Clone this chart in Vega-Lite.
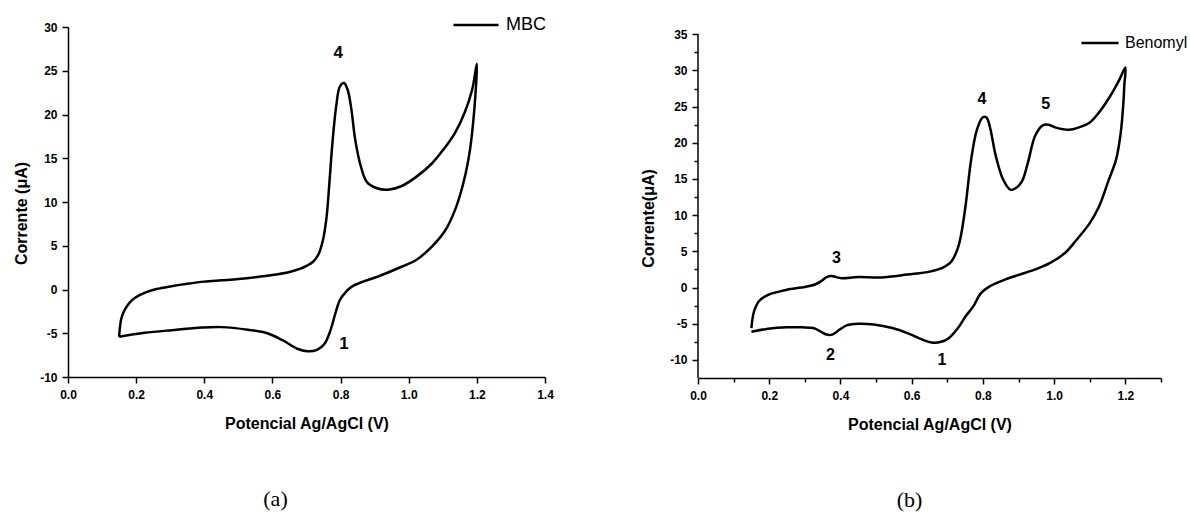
{
  "$schema": "https://vega.github.io/schema/vega-lite/v6.json",
  "autosize": {"type": "none"},
  "padding": {"left": 68, "top": 27, "right": 1122, "bottom": 485},
  "background": "white",
  "bounds": "flush",
  "spacing": 153,
  "config": {
    "view": {"stroke": null},
    "font": "Liberation Sans",
    "axis": {
      "grid": false,
      "domainColor": "black", "domainWidth": 1.5,
      "tickColor": "black", "tickWidth": 1.5,
      "labelColor": "black", "labelFont": "Liberation Sans", "labelFontSize": 12, "labelFontWeight": "bold",
      "labelFlush": false, "labelOverlap": false, "labelPadding": 5,
      "titleColor": "black", "titleFont": "Liberation Sans", "titleFontSize": 16, "titleFontWeight": "bold"
    },
    "axisX": {"labelPadding": 6},
    "title": {"font": "Liberation Serif", "fontSize": 22, "fontWeight": "normal", "color": "black"}
  },
  "resolve": {"scale": {"color": "independent"}, "legend": {"color": "independent"}},
  "datasets": {
    "mbc": [
      {"i": 0, "x": 0.150, "y": -5.4}, {"i": 1, "x": 0.152, "y": -4.5}, {"i": 2, "x": 0.156, "y": -3.4},
      {"i": 3, "x": 0.163, "y": -2.6}, {"i": 4, "x": 0.175, "y": -1.8}, {"i": 5, "x": 0.19, "y": -1.15},
      {"i": 6, "x": 0.21, "y": -0.65}, {"i": 7, "x": 0.23, "y": -0.3}, {"i": 8, "x": 0.26, "y": 0.05},
      {"i": 9, "x": 0.30, "y": 0.35}, {"i": 10, "x": 0.35, "y": 0.65}, {"i": 11, "x": 0.40, "y": 0.9},
      {"i": 12, "x": 0.45, "y": 1.05}, {"i": 13, "x": 0.50, "y": 1.2}, {"i": 14, "x": 0.55, "y": 1.4},
      {"i": 15, "x": 0.60, "y": 1.65}, {"i": 16, "x": 0.65, "y": 2.0}, {"i": 17, "x": 0.68, "y": 2.35},
      {"i": 18, "x": 0.70, "y": 2.7}, {"i": 19, "x": 0.72, "y": 3.2}, {"i": 20, "x": 0.735, "y": 4.0},
      {"i": 21, "x": 0.748, "y": 5.6}, {"i": 22, "x": 0.759, "y": 8.3}, {"i": 23, "x": 0.767, "y": 12.1},
      {"i": 24, "x": 0.776, "y": 16.7}, {"i": 25, "x": 0.787, "y": 20.9}, {"i": 26, "x": 0.798, "y": 23.2},
      {"i": 27, "x": 0.81, "y": 23.6}, {"i": 28, "x": 0.821, "y": 22.8}, {"i": 29, "x": 0.832, "y": 20.5},
      {"i": 30, "x": 0.843, "y": 17.1}, {"i": 31, "x": 0.86, "y": 14.0}, {"i": 32, "x": 0.877, "y": 12.3},
      {"i": 33, "x": 0.905, "y": 11.6}, {"i": 34, "x": 0.939, "y": 11.4}, {"i": 35, "x": 0.978, "y": 11.8},
      {"i": 36, "x": 1.023, "y": 12.9}, {"i": 37, "x": 1.068, "y": 14.4}, {"i": 38, "x": 1.102, "y": 16.0},
      {"i": 39, "x": 1.136, "y": 17.9}, {"i": 40, "x": 1.164, "y": 20.2}, {"i": 41, "x": 1.186, "y": 22.8},
      {"i": 42, "x": 1.2, "y": 25.8},
      {"i": 43, "x": 1.198, "y": 23.6}, {"i": 44, "x": 1.186, "y": 17.9}, {"i": 45, "x": 1.175, "y": 14.8},
      {"i": 46, "x": 1.158, "y": 11.8}, {"i": 47, "x": 1.136, "y": 9.1}, {"i": 48, "x": 1.108, "y": 6.8},
      {"i": 49, "x": 1.068, "y": 4.9}, {"i": 50, "x": 1.023, "y": 3.4}, {"i": 51, "x": 0.967, "y": 2.4},
      {"i": 52, "x": 0.911, "y": 1.5}, {"i": 53, "x": 0.866, "y": 0.9}, {"i": 54, "x": 0.832, "y": 0.3},
      {"i": 55, "x": 0.815, "y": -0.3}, {"i": 56, "x": 0.798, "y": -1.2}, {"i": 57, "x": 0.785, "y": -2.7},
      {"i": 58, "x": 0.77, "y": -4.7}, {"i": 59, "x": 0.753, "y": -6.2}, {"i": 60, "x": 0.731, "y": -6.9},
      {"i": 61, "x": 0.703, "y": -7.06}, {"i": 62, "x": 0.675, "y": -6.8}, {"i": 63, "x": 0.63, "y": -5.8},
      {"i": 64, "x": 0.585, "y": -5.0}, {"i": 65, "x": 0.528, "y": -4.6}, {"i": 66, "x": 0.45, "y": -4.3},
      {"i": 67, "x": 0.394, "y": -4.35}, {"i": 68, "x": 0.304, "y": -4.65}, {"i": 69, "x": 0.225, "y": -4.95},
      {"i": 70, "x": 0.18, "y": -5.2}, {"i": 71, "x": 0.15, "y": -5.4}
    ],
    "ben": [
      {"i": 0, "x": 0.150, "y": -5.6}, {"i": 1, "x": 0.153, "y": -4.3}, {"i": 2, "x": 0.158, "y": -3.2},
      {"i": 3, "x": 0.171, "y": -1.9}, {"i": 4, "x": 0.197, "y": -1.0}, {"i": 5, "x": 0.225, "y": -0.6},
      {"i": 6, "x": 0.25, "y": -0.3}, {"i": 7, "x": 0.29, "y": 0.0}, {"i": 8, "x": 0.313, "y": 0.2},
      {"i": 9, "x": 0.33, "y": 0.45}, {"i": 10, "x": 0.345, "y": 0.85}, {"i": 11, "x": 0.361, "y": 1.45},
      {"i": 12, "x": 0.375, "y": 1.6}, {"i": 13, "x": 0.387, "y": 1.45}, {"i": 14, "x": 0.403, "y": 1.3},
      {"i": 15, "x": 0.45, "y": 1.45}, {"i": 16, "x": 0.514, "y": 1.4}, {"i": 17, "x": 0.588, "y": 1.8},
      {"i": 18, "x": 0.651, "y": 2.2}, {"i": 19, "x": 0.693, "y": 2.9}, {"i": 20, "x": 0.71, "y": 3.5},
      {"i": 21, "x": 0.72, "y": 4.3}, {"i": 22, "x": 0.73, "y": 5.5}, {"i": 23, "x": 0.738, "y": 7.1},
      {"i": 24, "x": 0.751, "y": 11.2}, {"i": 25, "x": 0.767, "y": 17.7}, {"i": 26, "x": 0.783, "y": 21.8},
      {"i": 27, "x": 0.799, "y": 23.5}, {"i": 28, "x": 0.81, "y": 23.5}, {"i": 29, "x": 0.82, "y": 22.1},
      {"i": 30, "x": 0.836, "y": 18.2}, {"i": 31, "x": 0.857, "y": 14.9}, {"i": 32, "x": 0.878, "y": 13.5},
      {"i": 33, "x": 0.894, "y": 13.8}, {"i": 34, "x": 0.91, "y": 14.7}, {"i": 35, "x": 0.926, "y": 17.2},
      {"i": 36, "x": 0.947, "y": 21.0}, {"i": 37, "x": 0.968, "y": 22.4}, {"i": 38, "x": 0.984, "y": 22.5},
      {"i": 39, "x": 1.005, "y": 22.1}, {"i": 40, "x": 1.042, "y": 21.8}, {"i": 41, "x": 1.068, "y": 22.1},
      {"i": 42, "x": 1.1, "y": 22.8}, {"i": 43, "x": 1.126, "y": 24.2}, {"i": 44, "x": 1.158, "y": 26.5},
      {"i": 45, "x": 1.184, "y": 28.8}, {"i": 46, "x": 1.2, "y": 30.4},
      {"i": 47, "x": 1.197, "y": 28.0}, {"i": 48, "x": 1.195, "y": 26.0}, {"i": 49, "x": 1.187, "y": 21.4},
      {"i": 50, "x": 1.174, "y": 17.7}, {"i": 51, "x": 1.152, "y": 14.7}, {"i": 52, "x": 1.126, "y": 11.2},
      {"i": 53, "x": 1.1, "y": 8.9}, {"i": 54, "x": 1.063, "y": 6.6}, {"i": 55, "x": 1.031, "y": 4.8},
      {"i": 56, "x": 0.989, "y": 3.4}, {"i": 57, "x": 0.947, "y": 2.5}, {"i": 58, "x": 0.904, "y": 1.8},
      {"i": 59, "x": 0.862, "y": 1.1}, {"i": 60, "x": 0.82, "y": 0.2}, {"i": 61, "x": 0.794, "y": -0.8},
      {"i": 62, "x": 0.773, "y": -2.6}, {"i": 63, "x": 0.751, "y": -4.0}, {"i": 64, "x": 0.73, "y": -5.6},
      {"i": 65, "x": 0.704, "y": -7.0}, {"i": 66, "x": 0.683, "y": -7.5}, {"i": 67, "x": 0.656, "y": -7.6},
      {"i": 68, "x": 0.63, "y": -7.2}, {"i": 69, "x": 0.588, "y": -6.3}, {"i": 70, "x": 0.546, "y": -5.6},
      {"i": 71, "x": 0.493, "y": -5.1}, {"i": 72, "x": 0.45, "y": -5.0}, {"i": 73, "x": 0.419, "y": -5.2},
      {"i": 74, "x": 0.398, "y": -5.8}, {"i": 75, "x": 0.377, "y": -6.5}, {"i": 76, "x": 0.361, "y": -6.5},
      {"i": 77, "x": 0.345, "y": -6.1}, {"i": 78, "x": 0.324, "y": -5.6}, {"i": 79, "x": 0.292, "y": -5.5},
      {"i": 80, "x": 0.25, "y": -5.5}, {"i": 81, "x": 0.197, "y": -5.7}, {"i": 82, "x": 0.15, "y": -6.1}
    ],
    "lblA": [
      {"t": "4", "x": 0.793, "y": 27.0},
      {"t": "1", "x": 0.81, "y": -6.2}
    ],
    "lblB": [
      {"t": "3", "x": 0.389, "y": 4.1},
      {"t": "4", "x": 0.797, "y": 26.0},
      {"t": "5", "x": 0.976, "y": 25.3},
      {"t": "2", "x": 0.372, "y": -9.3},
      {"t": "1", "x": 0.685, "y": -10.0}
    ]
  },
  "hconcat": [
    {
      "width": 477,
      "height": 350,
      "title": {"text": "(a)", "orient": "bottom", "frame": "group", "anchor": "middle", "dx": -31, "offset": 58},
      "layer": [
        {
          "data": {"name": "mbc"},
          "mark": {"type": "line", "interpolate": "catmull-rom", "strokeWidth": 2.5},
          "encoding": {
            "x": {
              "field": "x", "type": "quantitative",
              "scale": {"domain": [0, 1.4], "nice": false, "zero": false},
              "axis": {
                "title": "Potencial Ag/AgCl (V)",
                "values": [0, 0.1, 0.2, 0.3, 0.4, 0.5, 0.6, 0.7, 0.8, 0.9, 1.0, 1.1, 1.2, 1.3, 1.4],
                "labelExpr": "round(datum.value*10) % 2 == 0 ? format(datum.value, '.1f') : ''",
                "tickSize": {"condition": {"test": "round(datum.value*10) % 2 == 0", "value": 6}, "value": 4},
                "titleY": 46, "titleBaseline": "middle"
              }
            },
            "y": {
              "field": "y", "type": "quantitative",
              "scale": {"domain": [-10, 30], "nice": false, "zero": false},
              "axis": {
                "title": "Corrente (μA)",
                "values": [-10, -7.5, -5, -2.5, 0, 2.5, 5, 7.5, 10, 12.5, 15, 17.5, 20, 22.5, 25, 27.5, 30],
                "labelExpr": "datum.value % 5 == 0 ? '' + datum.value : ''",
                "tickSize": {"condition": {"test": "datum.value % 5 == 0", "value": 6}, "value": 4},
                "titleX": -47, "titleY": 186, "titleBaseline": "middle"
              }
            },
            "order": {"field": "i", "type": "quantitative"},
            "color": {
              "datum": "MBC", "type": "nominal",
              "scale": {"range": ["black"]},
              "legend": {
                "title": null, "orient": "none", "legendX": 384, "legendY": -26, "padding": 0,
                "symbolType": "stroke", "symbolSize": 2025, "symbolStrokeWidth": 2.5, "symbolStrokeColor": "black",
                "labelFont": "Liberation Sans", "labelFontSize": 18, "labelColor": "black", "labelOffset": 6
              }
            }
          }
        },
        {
          "data": {"name": "lblA"},
          "mark": {"type": "text", "font": "Liberation Sans", "fontSize": 17, "fontWeight": "bold", "color": "black"},
          "encoding": {
            "x": {"field": "x", "type": "quantitative"},
            "y": {"field": "y", "type": "quantitative"},
            "text": {"field": "t"}
          }
        }
      ]
    },
    {
      "width": 463,
      "height": 351,
      "title": {"text": "(b)", "orient": "bottom", "frame": "group", "anchor": "middle", "dx": -20, "offset": 58},
      "encoding": {
        "x": {
          "type": "quantitative",
          "scale": {"domain": [0, 1.3], "nice": false, "zero": false},
          "axis": {
            "title": "Potencial Ag/AgCl (V)",
            "values": [0, 0.1, 0.2, 0.3, 0.4, 0.5, 0.6, 0.7, 0.8, 0.9, 1.0, 1.1, 1.2, 1.3],
            "labelExpr": "round(datum.value*10) % 2 == 0 ? format(datum.value, '.1f') : ''",
            "tickSize": {"condition": {"test": "round(datum.value*10) % 2 == 0", "value": 6}, "value": 4},
            "titleY": 46, "titleBaseline": "middle"
          }
        },
        "y": {
          "type": "quantitative",
          "scale": {"domain": [-12.5, 36], "nice": false, "zero": false},
          "axis": {
            "title": "Corrente(μA)",
            "domain": false,
            "values": [-10, -7.5, -5, -2.5, 0, 2.5, 5, 7.5, 10, 12.5, 15, 17.5, 20, 22.5, 25, 27.5, 30, 32.5, 35],
            "labelExpr": "datum.value % 5 == 0 ? '' + datum.value : ''",
            "tickSize": {"condition": {"test": "datum.value % 5 == 0", "value": 6}, "value": 4},
            "titleX": -50, "titleY": 191, "titleBaseline": "middle"
          }
        }
      },
      "layer": [
        {
          "data": {"values": [{}]},
          "mark": {"type": "rule", "color": "black", "strokeWidth": 1.5},
          "encoding": {
            "x": {"datum": 0},
            "y": {"datum": -12.5},
            "y2": {"datum": 35}
          }
        },
        {
          "data": {"name": "ben"},
          "mark": {"type": "line", "interpolate": "catmull-rom", "strokeWidth": 2.5},
          "encoding": {
            "x": {"field": "x"},
            "y": {"field": "y"},
            "order": {"field": "i", "type": "quantitative"},
            "color": {
              "datum": "Benomyl", "type": "nominal",
              "scale": {"range": ["black"]},
              "legend": {
                "title": null, "orient": "none", "legendX": 382, "legendY": -4, "padding": 0,
                "symbolType": "stroke", "symbolSize": 1369, "symbolStrokeWidth": 2.5, "symbolStrokeColor": "black",
                "labelFont": "Liberation Sans", "labelFontSize": 16, "labelColor": "black", "labelOffset": 5
              }
            }
          }
        },
        {
          "data": {"name": "lblB"},
          "mark": {"type": "text", "font": "Liberation Sans", "fontSize": 16, "fontWeight": "bold", "color": "black"},
          "encoding": {
            "x": {"field": "x"},
            "y": {"field": "y"},
            "text": {"field": "t"}
          }
        }
      ]
    }
  ]
}
